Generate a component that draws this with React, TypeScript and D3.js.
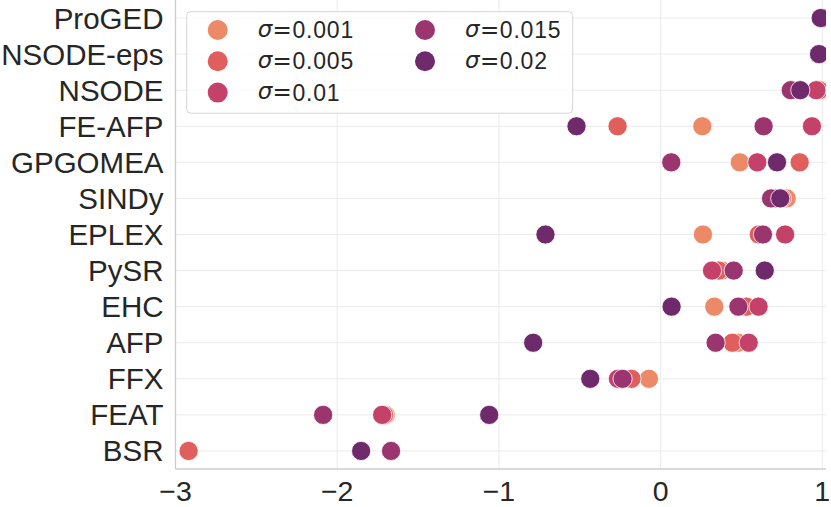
import React from 'react';
import * as d3 from 'd3';

// methods, top to bottom
const methods = [
  'ProGED', 'NSODE-eps', 'NSODE', 'FE-AFP', 'GPGOMEA', 'SINDy', 'EPLEX',
  'PySR', 'EHC', 'AFP', 'FFX', 'FEAT', 'BSR',
];

const sigmaLabels = ['0.001', '0.005', '0.01', '0.015', '0.02'];

// scores per noise level (null = outside the plotted range)
const s001 = [1.0, 0.98, 0.99, 0.258, 0.49, 0.78, 0.262, 0.38, 0.332, 0.48, -0.072, -1.7, null];
const s005 = [1.0, 0.98, 0.98, -0.266, 0.86, 0.75, 0.607, 0.36, 0.53, 0.444, -0.18, -1.71, -2.919];
const s01 = [1.0, 0.98, 0.963, 0.936, 0.598, 0.71, 0.77, 0.318, 0.606, 0.545, -0.264, -1.722, null];
const s015 = [1.0, 0.98, 0.805, 0.637, 0.066, 0.683, 0.633, 0.452, 0.481, 0.34, -0.235, -2.087, -1.667];
const s02 = [0.99, 0.98, 0.864, -0.52, 0.72, 0.74, -0.712, 0.644, 0.068, -0.788, -0.435, -1.06, -1.852];

const series = [s001, s005, s01, s015, s02];
const colors = ['#ec8a68', '#e05e5c', '#c4426a', '#9a3570', '#6f2a6c'];

const xTicks = [-3, -2, -1, 0, 1];

const W = 831;
const H = 507;
const left = 175.5;
const bottom = 469;
const clipRight = 826;

const App: React.FC = () => {
  const x = d3.scaleLinear().domain([-3, 1]).range([left, 822.3]);
  const y = d3.scaleBand<string>().domain(methods).range([0, bottom]).padding(0);
  const cy = (m: string) => (y(m) as number) + y.bandwidth() / 2;

  const font = '"Liberation Sans", Arial, sans-serif';
  const mathFont = '"DejaVu Sans", sans-serif';

  // legend layout
  const legX = 186.7;
  const legY = 11.7;
  const colX = [217.7, 425];
  const rowY = [30, 61.3, 92.6];

  return (
    <div style={{ position: 'fixed', left: 0, top: 0 }}>
      <svg width={W} height={H} style={{ display: 'block', background: '#fff' }}>
        <defs>
          <clipPath id="plot">
            <rect x={left} y={0} width={clipRight - left} height={bottom} />
          </clipPath>
        </defs>

        {/* grid */}
        {xTicks.map((t) => (
          <line key={'gx' + t} x1={x(t)} x2={x(t)} y1={0} y2={bottom} stroke="#ebebeb" strokeWidth={1} />
        ))}
        {methods.map((m) => (
          <line key={'gy' + m} x1={left} x2={clipRight} y1={cy(m)} y2={cy(m)} stroke="#ebebeb" strokeWidth={1} />
        ))}

        {/* spines */}
        <line x1={left} x2={left} y1={0} y2={bottom} stroke="#cccccc" strokeWidth={1.3} />
        <line x1={left} x2={clipRight} y1={bottom} y2={bottom} stroke="#cccccc" strokeWidth={1.3} />

        {/* points, drawn in order of increasing sigma */}
        <g clipPath="url(#plot)">
          {series.map((vals, si) =>
            vals.map((v, i) =>
              v === null ? null : (
                <circle
                  key={si + '-' + i}
                  cx={x(v)}
                  cy={cy(methods[i])}
                  r={9.6}
                  fill={colors[si]}
                  stroke="#fff"
                  strokeWidth={0.8}
                />
              )
            )
          )}
        </g>

        {/* y labels */}
        {methods.map((m) => (
          <text key={'yl' + m} x={163.5} y={cy(m) + 10.5} textAnchor="end" fontFamily={font} fontSize={29.5} fill="#262626">
            {m}
          </text>
        ))}

        {/* x labels */}
        {xTicks.map((t) => (
          <text key={'xl' + t} x={x(t)} y={500.7} textAnchor="middle" fontFamily={font} fontSize={28.5} fill="#262626">
            {t < 0 ? '\u2212' + Math.abs(t) : String(t)}
          </text>
        ))}

        {/* legend */}
        <rect x={legX} y={legY} width={386} height={101.5} rx={4} fill="#fff" fillOpacity={0.8} stroke="#d6d6d6" strokeWidth={1} />
        {sigmaLabels.map((lab, i) => {
          const col = i < 3 ? 0 : 1;
          const row = i < 3 ? i : i - 3;
          const mx = colX[col];
          const my = rowY[row];
          return (
            <g key={'lg' + lab}>
              <circle cx={mx} cy={my} r={10} fill={colors[i]} />
              <text x={mx + 40} y={my + 6.5} fontFamily={mathFont} fontStyle="italic" fontSize={23} fill="#262626">
                σ
              </text>
              <text x={mx + 54.9} y={my + 7.8} fontFamily={mathFont} fontSize={23} fill="#262626">
                =
              </text>
              <text x={mx + 74.8} y={my + 8} fontFamily={font} fontSize={23} letterSpacing={0.8} fill="#262626">
                {lab}
              </text>
            </g>
          );
        })}
      </svg>
    </div>
  );
};

export default App;
